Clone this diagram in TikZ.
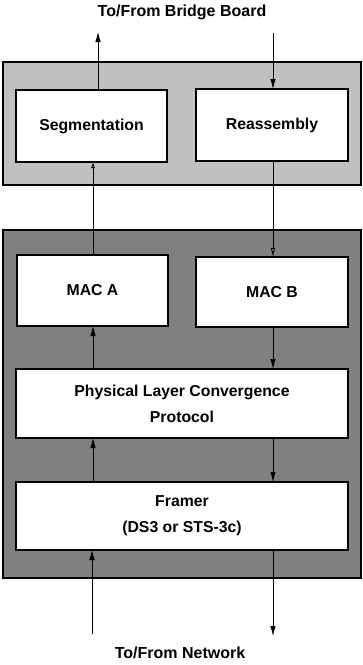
\documentclass[tikz,border=0pt]{standalone}
\usepackage{fontspec}
\setmainfont{Liberation Sans}
\usetikzlibrary{arrows.meta}
\definecolor{lightgr}{HTML}{C0C0C0}
\definecolor{darkgr}{HTML}{808080}
\tikzset{
  outerbox/.style={draw=black, line width=2pt, rectangle, inner sep=0pt, outer sep=0pt},
  blockbox/.style={draw=black, fill=white, line width=1.8pt, rectangle, inner sep=0pt, outer sep=0pt, align=center,
    font=\fontsize{15.8}{26}\selectfont\bfseries},
  lbl/.style={font=\fontsize{16}{18}\selectfont\bfseries, inner sep=0pt},
  conn/.style={line width=0.8pt, draw=black},
  fillarrow/.style={-{Latex[length=10pt,width=5.5pt]}},
  openarrow/.style={-{Latex[open,length=6pt,width=4pt]}},
  openarrowb/.style={-{Latex[open,length=9pt,width=4.5pt]}}
}
\begin{document}
\begin{tikzpicture}[x=1pt,y=-1pt]
\useasboundingbox (0,0) rectangle (362,665);
% outer boxes
\node[outerbox, fill=lightgr, minimum width=358pt, minimum height=123pt] (top) at (182,123.5) {};
\node[outerbox, fill=darkgr, minimum width=358pt, minimum height=348pt] (bot) at (182,404) {};
% blocks
\node[blockbox, minimum width=151pt, minimum height=72pt] (seg) at (91.5,126) {Segmentation};
\node[blockbox, minimum width=152pt, minimum height=72pt] (reas) at (272,125) {Reassembly};
\node[blockbox, minimum width=151pt, minimum height=71pt] (maca) at (92.5,290.5) {MAC A};
\node[blockbox, minimum width=152pt, minimum height=70pt] (macb) at (272,292) {MAC B};
\node[blockbox, minimum width=332pt, minimum height=69pt] (plcp) at (182,403.5) {Physical Layer Convergence\\Protocol};
\node[blockbox, minimum width=332pt, minimum height=68pt] (framer) at (182,516) {Framer\\(DS3 or STS-3c)};
% labels
\node[lbl] (tlabel) at (182,12) {To/From Bridge Board};
\node[lbl] (blabel) at (180,653) {To/From Network};
% columns and free ends
\coordinate (colS) at (98,0);
\coordinate (colL) at (93,0);
\coordinate (colB) at (92,0);
\coordinate (colR) at (273,0);
\coordinate (upend) at (98,32);
\coordinate (downstart) at (273,33);
\coordinate (netin) at (92,634);
\coordinate (netout) at (273,636);
% connectors
\draw[conn, fillarrow] (seg.north -| colS) -- (upend);
\draw[conn, fillarrow] (downstart) -- (reas.north -| colR);
\draw[conn, openarrow] (maca.north -| colL) -- (seg.south -| colL);
\draw[conn, openarrowb] (reas.south -| colR) -- (macb.north -| colR);
\draw[conn, fillarrow] (plcp.north -| colL) -- (maca.south -| colL);
\draw[conn, fillarrow] (macb.south -| colR) -- (plcp.north -| colR);
\draw[conn, fillarrow] (plcp.south -| colR) -- (framer.north -| colR);
\draw[conn, fillarrow] (framer.north -| colL) -- (plcp.south -| colL);
\draw[conn, fillarrow] (netin) -- (framer.south -| colB);
\draw[conn, fillarrow] (framer.south -| colR) -- (netout);
\end{tikzpicture}
\end{document}
